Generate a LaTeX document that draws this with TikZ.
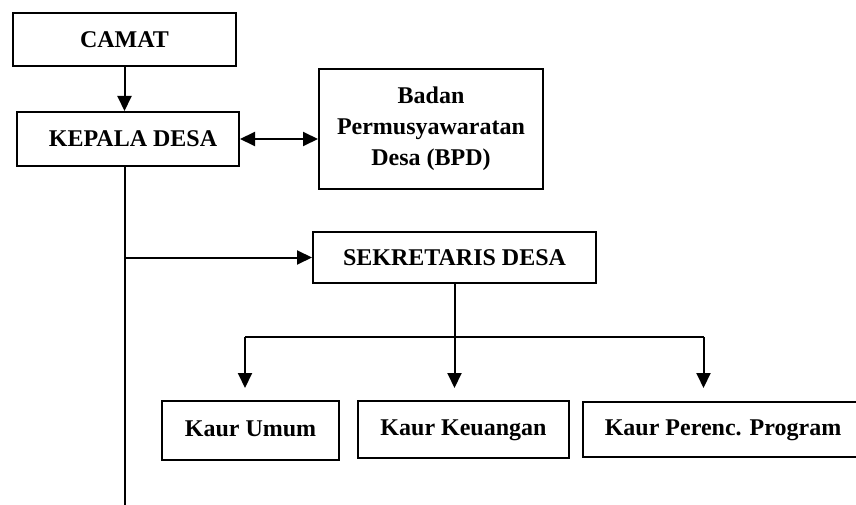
\documentclass[tikz,border=0pt]{standalone}
\usepackage{fontspec}
\setmainfont{Liberation Serif}
\usetikzlibrary{arrows.meta}
\begin{document}
\begin{tikzpicture}[x=1pt,y=1pt,
  box/.style={draw, line width=2pt, inner sep=0pt, font=\fontsize{24}{31}\selectfont\bfseries, align=center},
  kaur/.style={box, text height=16pt, text depth=5pt},
  linkline/.style={draw, line width=2pt},
  arr/.style={draw, line width=2pt, -{Triangle[length=15pt,width=14pt]}},
  darr/.style={draw, line width=2pt, {Triangle[length=15pt,width=14pt]}-{Triangle[length=15pt,width=14pt]}}
]
\useasboundingbox (0,0) rectangle (856,-505);
\node[box, minimum width=223pt, minimum height=53pt] (camat) at (124.5,-39.5) {CAMAT};
\node[box, minimum width=222pt, minimum height=54pt] (kepala) at (128,-139) {\hspace*{10pt}KEPALA DESA};
\node[box, minimum width=224pt, minimum height=120pt] (bpd) at (431,-129) {Badan\\ Permusyawaratan\\ Desa (BPD)};
\node[box, minimum width=283pt, minimum height=51pt] (sek) at (454.5,-257.5) {SEKRETARIS DESA};
\node[kaur, minimum width=177pt, minimum height=59pt] (umum) at (250.5,-430.5) {Kaur Umum};
\node[kaur, minimum width=211pt, minimum height=57pt] (keu) at (463.5,-429.5) {Kaur Keuangan};
\node[kaur, minimum width=280pt, minimum height=55pt] (perenc) at (723,-429.5) {Kaur Perenc. Program};
\coordinate (bottom) at (124.5,-505);
\coordinate (bl) at (245,-337);
\coordinate (br) at (703.5,-337);
\draw[arr] (camat.south) -- (camat.south |- kepala.north);
\draw[darr] (kepala.east) -- (kepala.east -| bpd.west);
\draw[linkline] (kepala.south -| camat.south) -- (bottom);
\draw[arr] (camat.south |- sek.west) -- (sek.west);
\draw[linkline] (sek.south) -- (sek.south |- bl);
\draw[linkline] (bl) -- (br);
\draw[arr, shorten >=12pt] (bl) -- (bl |- umum.north);
\draw[arr, shorten >=12pt] (sek.south |- bl) -- (sek.south |- keu.north);
\draw[arr, shorten >=13pt] (br) -- (br |- perenc.north);
\end{tikzpicture}
\end{document}
